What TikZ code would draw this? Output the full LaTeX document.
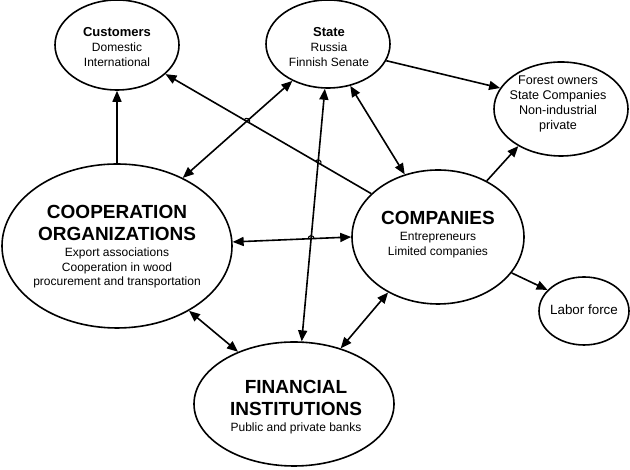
\documentclass[tikz,border=0pt]{standalone}
\usepackage{fontspec}
\setmainfont{Liberation Sans}
\usetikzlibrary{shapes.geometric,arrows.meta,intersections}
\tikzset{
  blob/.style={draw, ellipse, line width=1.6pt, inner sep=0pt},
  bigtxt/.style={font=\fontsize{19}{22}\selectfont\bfseries, align=center, inner sep=0pt},
  headtxt/.style={font=\fontsize{13}{15}\selectfont\bfseries, inner sep=0pt},
  subtxt/.style={font=\fontsize{12}{14.8}\selectfont, align=center, inner sep=0pt},
  link/.style={line width=1.6pt, -{Triangle[length=11pt,width=9pt]}},
  twoway/.style={line width=1.6pt, {Triangle[length=11pt,width=9pt]}-{Triangle[length=11pt,width=9pt]}},
  hop/.style={line width=1.1pt}
}
\begin{document}
\begin{tikzpicture}[x=1pt, y=1pt]
  \useasboundingbox (0,0) rectangle (630,470);
  % ellipses
  \node[blob, minimum width=124pt, minimum height=90pt] (cust) at (117,425) {};
  \node[blob, minimum width=124pt, minimum height=88pt] (state) at (328,426) {};
  \node[blob, minimum width=134pt, minimum height=94pt] (forest) at (561,361) {};
  \node[blob, minimum width=230pt, minimum height=164pt] (coop) at (117,224) {};
  \node[blob, minimum width=172pt, minimum height=134pt] (comp) at (438,233) {};
  \node[blob, minimum width=90pt, minimum height=68pt] (labor) at (584,159) {};
  \node[blob, minimum width=200pt, minimum height=124pt] (fin) at (294,66) {};
  % texts
  \node[headtxt] (custT) at (117,438) {Customers};
  \node[subtxt] (custS) at (117,415) {Domestic\\International};
  \node[headtxt] (stateT) at (329,438) {State};
  \node[subtxt] (stateS) at (329,415) {Russia\\Finnish Senate};
  \node[subtxt, font=\fontsize{12.6}{15}\selectfont] (forestS) at (558,366) {Forest owners\\State Companies\\Non-industrial\\private};
  \node[bigtxt] (coopT) at (117,247) {COOPERATION\\ORGANIZATIONS};
  \node[subtxt] (coopS) at (117,202) {Export associations\\Cooperation in wood\\procurement and transportation};
  \node[bigtxt] (compT) at (438,252) {COMPANIES};
  \node[subtxt] (compS) at (438,225) {Entrepreneurs\\Limited companies};
  \node[bigtxt] (finT) at (296,72) {FINANCIAL\\INSTITUTIONS};
  \node[subtxt] (finS) at (296,42) {Public and private banks};
  \node[subtxt, font=\fontsize{13.4}{15}\selectfont] (laborS) at (584,160) {Labor force};
  % connectors
  \draw[link] (coop.north) -- (cust.south);
  \draw[link, name path=toCust] (comp.147) -- (cust.-31);
  \draw[twoway, name path=coopState] (coop.46) -- (state.226);
  \draw[link] (state.-16) -- (forest.161);
  \draw[twoway] (state.-62) -- (comp.118);
  \draw[twoway, name path=stateFin] (state.-94) -- (fin.83);
  \draw[link] (comp.49) -- (forest.221);
  \draw[twoway, name path=coopComp] (coop.2) -- (comp.180);
  \draw[link] (comp.-26) -- (labor.150);
  \draw[twoway] (coop.-42) -- (fin.137);
  \draw[twoway] (comp.228) -- (fin.50);
  % hops at crossings
  \path[name intersections={of=toCust and coopState, by=h1}];
  \path[name intersections={of=toCust and stateFin, by=h2}];
  \path[name intersections={of=coopComp and stateFin, by=h3}];
  \draw[hop] ([shift={(150:3pt)}]h1) arc[start angle=150, end angle=-30, radius=3pt];
  \draw[hop] ([shift={(150:3pt)}]h2) arc[start angle=150, end angle=-30, radius=3pt];
  \draw[hop] ([shift={(180:3pt)}]h3) arc[start angle=180, end angle=0, radius=3pt];
\end{tikzpicture}
\end{document}
